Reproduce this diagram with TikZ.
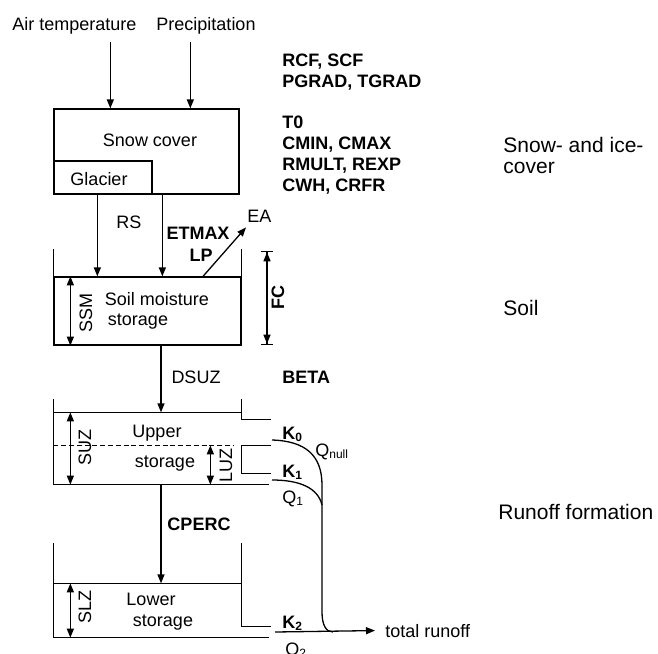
\documentclass[tikz,border=0pt]{standalone}
\usepackage{fontspec}
\setmainfont{Liberation Sans}
\usetikzlibrary{arrows.meta, positioning}
\tikzset{
  txt/.style={inner sep=0pt, anchor=base, font=\fontsize{9}{10.4}\selectfont},
  bold/.style={txt, font=\fontsize{9}{10.4}\selectfont\bfseries},
  param/.style={bold, anchor=base west},
  zone/.style={inner sep=0pt, anchor=base west, font=\fontsize{10.5}{12}\selectfont},
  vtxt/.style={inner sep=0pt, rotate=90, font=\fontsize{9}{10.4}\selectfont},
  tank/.style={rectangle, inner sep=0pt, line width=0.65pt},
  wall/.style={line width=0.65pt},
  flow/.style={-{Triangle[length=4.5pt, width=3.5pt]}, line width=0.65pt},
  depth/.style={{Triangle[length=4.5pt, width=3.5pt]}-{Triangle[length=4.5pt, width=3.5pt]}, line width=0.65pt},
  fcdim/.style={{Bar[width=6pt]Triangle[length=4.5pt, width=3.5pt]}-{Triangle[length=4.5pt, width=3.5pt]Bar[width=6pt]}, line width=0.65pt},
}

\begin{document}
\begin{tikzpicture}[x=0.5pt, y=-0.5pt]

  \useasboundingbox (0,0) rectangle (658,653);

  % =====================================================
  % INPUT
  % =====================================================

  \node[txt] (airtemp) at (74.5,30) {Air temperature};
  \node[txt] (precip) at (206,30) {Precipitation};

  \node[param] (rcf) at (282,66) {RCF, SCF};
  \node[param] (pgrad) at (282,87) {PGRAD, TGRAD};
  \node[param] (tzero) at (282,128) {T0};
  \node[param] (cmin) at (282,149) {CMIN, CMAX};
  \node[param] (rmult) at (282,170) {RMULT, REXP};
  \node[param] (cwh) at (282,191) {CWH, CRFR};


  % =====================================================
  % SNOW COVER
  % =====================================================

  \node[tank, draw, minimum width=92.5pt, minimum height=42.5pt]
    (snow) at (146.5,151.5) {};

  \node[tank, draw, anchor=south west, minimum width=49pt, minimum height=16.5pt]
    (glacier) at (snow.south west) {};

  \node[txt] (snowtxt) at (150,146) {Snow cover};
  \node[txt] (glaciertxt) at (99,185) {Glacier};

  \draw[flow]
    ([xshift=28.5pt,yshift=33pt]snow.north west) -- ([xshift=28.5pt]snow.north west);

  \draw[flow]
    ([xshift=68.5pt,yshift=33pt]snow.north west) -- ([xshift=68.5pt]snow.north west);


  % =====================================================
  % SOIL
  % =====================================================

  \node[tank, draw, minimum width=93.5pt, minimum height=34pt]
    (soil) at (147.5,311) {};

  \draw[wall]
    (soil.north west) -- ++(0,-27);
  \draw[wall]
    (soil.north east) -- ++(0,-27);

  \node[txt] (soiltxt) at (157,305) {Soil moisture};
  \node[txt] (soiltxt2) at (138,325) {storage};
  \node[txt] (rs) at (129,228) {RS};
  \node[bold] (etmax) at (198,239) {ETMAX};
  \node[bold] (lp) at (201,261) {LP};
  \node[txt, anchor=base west] (ea) at (247,222) {EA};

  \draw[flow]
    ([xshift=22pt]snow.south west) -- ([xshift=22pt]soil.north west);

  \draw[flow]
    ([xshift=54.5pt]snow.south west) -- ([xshift=54.5pt]soil.north west);

  \draw[flow]
    ([xshift=27.75pt]soil.north) -- ([xshift=-0.5pt,yshift=-2.5pt]ea.south west);

  \draw[depth]
    ([xshift=8.5pt]soil.north west) -- ([xshift=8.5pt]soil.south west);
  \node[vtxt] (ssm) at (86,313) {SSM};

  \coordinate (fctop) at (267,251);
  \coordinate (fcbot) at (267,345);
  \draw[fcdim] (fctop) -- (fcbot);
  \node[vtxt, font=\fontsize{9}{10.4}\selectfont\bfseries] (fc) at (278,297) {FC};


  % =====================================================
  % UPPER STORAGE
  % =====================================================

  \node[tank, minimum width=93.5pt, minimum height=35.5pt]
    (upper) at (147.5,448.5) {};

  \draw[wall]
    ([yshift=6.5pt]upper.north west) -- (upper.south west) -- ++(216,0);
  \draw[wall]
    (upper.north west) -- (upper.north east);
  \draw[wall]
    ([yshift=6.5pt]upper.north east) -- ++(0,20) -- ++(29,0);
  \draw[wall]
    (upper.north east) ++(29,33) -- ++(-29,0) -- ++(0,28) -- ++(29,0);
  \draw[wall, dash pattern=on 2.5pt off 1.4pt]
    (upper.north west) ++(0,33) -- ++(181,0);

  \node[txt] (uppertxt) at (157,437) {Upper};
  \node[txt] (uppertxt2) at (165,467) {storage};
  \node[txt] (dsuz) at (196,383) {DSUZ};
  \node[param] (beta) at (282,383) {BETA};

  \draw[flow]
    ([xshift=6.75pt]soil.south) -- ([xshift=6.75pt]upper.north);

  \draw[depth]
    ([xshift=8.5pt]upper.north west) -- ([xshift=8.5pt]upper.south west);
  \node[vtxt] (suz) at (85,447) {SUZ};

  \draw[depth]
    ([shift={(78.5pt,-16.5pt)}]upper.north west) -- ([xshift=78.5pt]upper.south west);
  \node[vtxt] (luz) at (226,465) {LUZ};


  % =====================================================
  % LOWER STORAGE
  % =====================================================

  \node[tank, minimum width=93.5pt, minimum height=26.5pt]
    (lower) at (147.5,610.5) {};

  \draw[wall]
    ([yshift=20pt]lower.north west) -- (lower.south west) -- ++(216,0);
  \draw[wall]
    (lower.north west) -- (lower.north east);
  \draw[wall]
    ([yshift=20pt]lower.north east) -- ++(0,83) -- ++(29,0);

  \node[txt] (lowertxt) at (151,605) {Lower};
  \node[txt] (lowertxt2) at (163,626) {storage};
  \node[bold] (cperc) at (199,530) {CPERC};

  \draw[flow]
    ([xshift=6.75pt]upper.south) -- ([xshift=6.75pt]lower.north);

  \draw[depth]
    ([xshift=8.5pt]lower.north west) -- ([xshift=8.5pt]lower.south west);
  \node[vtxt] (slz) at (85,607) {SLZ};


  % =====================================================
  % RUNOFF
  % =====================================================

  \node[param] (k0) at (282,439) {K\textsubscript{0}};
  \node[param] (k1) at (282,477) {K\textsubscript{1}};
  \node[param] (k2) at (282,628) {K\textsubscript{2}};
  \node[txt, anchor=base west] (qnull) at (315,456) {Q\textsubscript{null}};
  \node[txt, anchor=base west] (q1) at (282,503) {Q\textsubscript{1}};
  \node[txt, anchor=base west] (q2) at (285,655) {Q\textsubscript{2}};
  \node[txt, anchor=base west] (runoff) at (385,637) {total runoff};

  \coordinate (q0out) at (272,440);
  \coordinate (q1out) at (272,480);
  \coordinate (q2out) at (275,632);

  \draw[wall]
    (q0out) .. controls (305,441) and (322,455) .. (322,485)
    -- (322,612) .. controls (322,625) and (326,632) .. (333,632);

  \draw[wall]
    (q1out) .. controls (300,480) and (318,488) .. (322,505);

  \draw[flow]
    (q2out) -- ([xshift=-5pt]runoff.west);


  % =====================================================
  % ZONES
  % =====================================================

  \node[zone] (zsnow) at (503,152) {Snow- and ice-};
  \node[zone] (zsnow2) at (503,173) {cover};
  \node[zone] (zsoil) at (503,315) {Soil};
  \node[zone] (zrunoff) at (498,519) {Runoff formation};

\end{tikzpicture}
\end{document}
